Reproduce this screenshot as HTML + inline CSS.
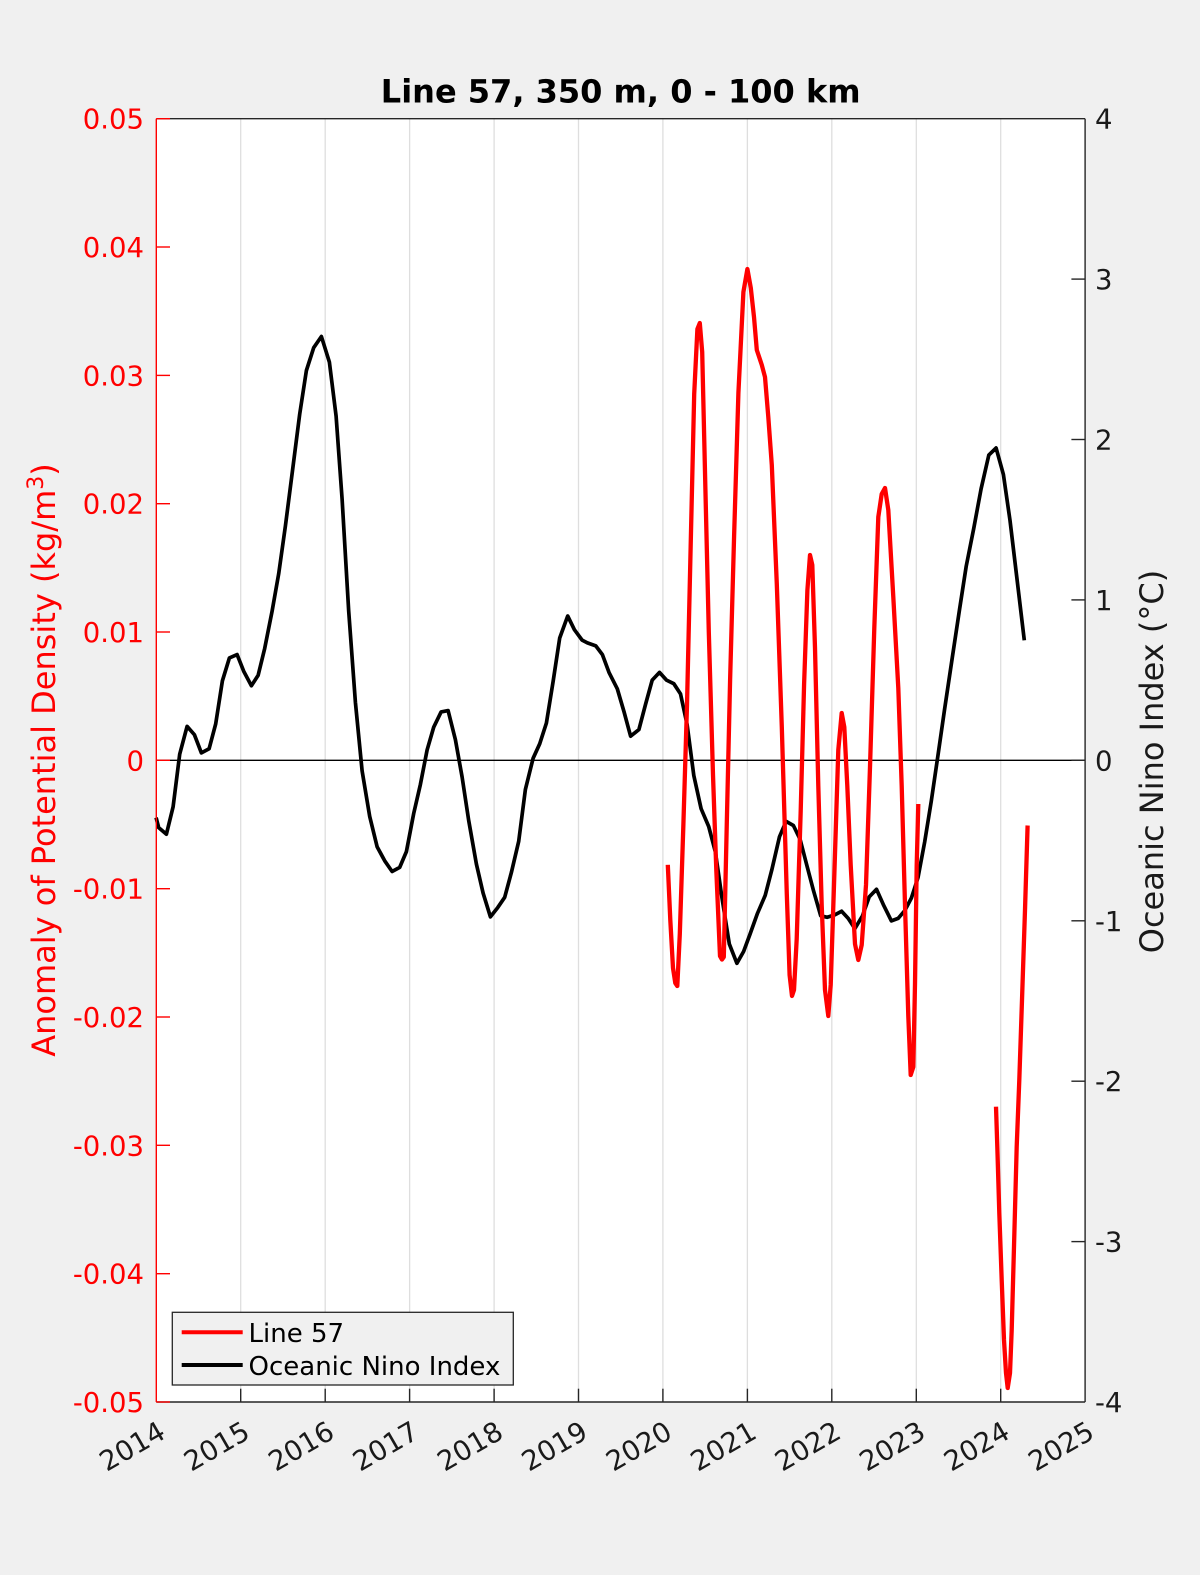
<!DOCTYPE html>
<html>
<head>
<meta charset="utf-8">
<style>
  html, body { margin: 0; padding: 0; background: #f0f0f0; }
  svg { display: block; }
  text { font-family: "DejaVu Sans", "Liberation Sans", sans-serif; }
</style>
</head>
<body>
<svg width="1200" height="1575" viewBox="0 0 1200 1575" xmlns="http://www.w3.org/2000/svg">
  <rect x="0" y="0" width="1200" height="1575" fill="#f0f0f0"/>
  <!-- plot area -->
  <rect x="156.3" y="118.7" width="928.8" height="1283.3" fill="#ffffff"/>

  <!-- vertical gridlines -->
  <g stroke="#dedede" stroke-width="1.3">
    <line x1="240.7" y1="118.7" x2="240.7" y2="1402"/>
    <line x1="325.2" y1="118.7" x2="325.2" y2="1402"/>
    <line x1="409.6" y1="118.7" x2="409.6" y2="1402"/>
    <line x1="494.1" y1="118.7" x2="494.1" y2="1402"/>
    <line x1="578.5" y1="118.7" x2="578.5" y2="1402"/>
    <line x1="662.9" y1="118.7" x2="662.9" y2="1402"/>
    <line x1="747.4" y1="118.7" x2="747.4" y2="1402"/>
    <line x1="831.8" y1="118.7" x2="831.8" y2="1402"/>
    <line x1="916.3" y1="118.7" x2="916.3" y2="1402"/>
    <line x1="1000.7" y1="118.7" x2="1000.7" y2="1402"/>
  </g>

  <!-- zero line -->
  <line x1="156.3" y1="760.3" x2="1085.1" y2="760.3" stroke="#000" stroke-width="1.3"/>

  <!-- ONI black line -->
  <polyline fill="none" stroke="#000" stroke-width="3.7" stroke-linejoin="round" stroke-linecap="butt"
    points="156.1,817.6 158.7,827.6 166.4,834.2 173.1,806.8 179.7,754.2 187.1,726.4 194.4,734.7 201.4,752.9 209.1,748.8 215.7,723.9 222.4,680.8 229.4,657.9 237.1,654.6 243.7,671.2 251.4,685.7 258.1,675.4 264.7,648.4 272.1,611.1 278.7,573.7 285.4,526.0 293.1,465.9 299.7,414.1 306.4,370.5 313.7,347.7 321.4,336.5 329.4,362.2 336.1,416.1 342.1,499.1 348.7,611.1 355.4,702.3 362.1,770.8 369.7,816.4 377.1,846.7 384.7,860.8 392.1,871.5 399.7,867.4 406.4,851.6 413.7,813.5 420.4,784.4 427.1,750.0 433.7,727.2 441.1,711.9 448.1,710.6 455.4,739.7 462.1,777.0 468.7,820.5 476.4,864.1 483.1,893.1 490.4,916.8 497.7,907.6 504.7,897.3 511.4,872.4 518.7,841.3 525.4,789.4 533.1,758.3 539.7,743.8 546.4,723.1 553.1,681.6 559.7,638.0 567.7,616.0 574.4,629.7 582.1,640.1 587.4,642.9 595.8,645.9 602.4,654.6 609.0,672.4 617.3,688.8 624.0,711.7 630.6,736.2 638.9,729.6 645.6,704.1 652.2,680.1 659.5,672.4 666.5,680.1 673.8,683.7 680.5,693.9 687.1,724.5 693.8,775.5 701.1,808.7 708.7,826.5 715.4,852.0 722.0,898.0 729.3,943.9 736.9,963.3 743.6,951.5 750.2,933.7 757.5,913.3 765.2,895.4 771.8,869.9 779.5,836.7 786.1,821.4 793.4,825.5 800.1,839.3 806.7,864.8 813.4,890.3 820.7,915.8 827.3,917.3 835.0,914.8 841.6,911.2 848.2,918.4 854.9,928.6 862.5,915.8 869.2,896.9 876.5,889.3 883.8,905.6 891.4,920.9 898.1,918.4 904.7,910.7 911.4,898.0 918.0,877.6 924.7,841.8 931.3,801.0 938.0,755.1 944.6,709.2 952.2,658.2 959.5,609.7 966.2,566.3 973.8,528.1 981.1,488.8 988.8,455.1 996.1,448.0 1003.4,474.5 1010.0,520.4 1016.7,576.5 1024.3,640.3"/>

  <!-- Line 57 red -->
  <polyline fill="none" stroke="#ff0000" stroke-width="4.3" stroke-linejoin="round" stroke-linecap="butt"
    points="667.8,864.8 670.3,920 673,968 675.3,983 677.3,986 679.8,934 683.4,824 687,705 690.3,562 694.2,394 697.4,329 699.8,323 702.2,352 705.4,489 708.8,632 713,775 716.3,870 720,956 722,959.5 723.8,957 726.8,823 730.1,680 734.1,536 738.4,393 743.4,292 747.4,269 750.8,288 754,317 756.8,350 761.8,365 765,377 768.3,417 771.8,465 776.8,584 781.8,727 786.8,894 789.6,975 792,996 794,990 796.7,939 800.7,811 804.1,684 807.4,590 810,555 812.3,565 815,648 818.3,786 821.7,905 825,990 828.3,1016 830.7,985 834,885 838.3,750 841.7,713 844.3,727 847.3,786 850.7,865 855,944 858.3,960 861.7,945 866,885 870,767 874.3,628 878.3,517 881.7,494 885,488 888.3,510 893.3,597 898.3,688 901.7,786 905,905 908.3,1016 910.7,1075 913.3,1067 915,984 916.7,865 918.3,804"/>
  <polyline fill="none" stroke="#ff0000" stroke-width="4.3" stroke-linejoin="round" stroke-linecap="butt"
    points="996,1106.7 997.3,1146.7 999.3,1213 1001.7,1280 1004,1340 1006,1373 1007.7,1388 1010,1373 1011.7,1330 1014,1246.7 1016.7,1146.7 1019.3,1080 1022,1000 1025,910 1027.6,825.5"/>

  <!-- axes lines -->
  <line x1="156.3" y1="118.7" x2="1085.1" y2="118.7" stroke="#262626" stroke-width="1.4"/>
  <line x1="156.3" y1="1402" x2="1085.1" y2="1402" stroke="#262626" stroke-width="1.4"/>
  <line x1="1085.1" y1="118.7" x2="1085.1" y2="1402" stroke="#262626" stroke-width="1.4"/>
  <line x1="156.3" y1="118.7" x2="156.3" y2="1402" stroke="#ff0000" stroke-width="1.4"/>

  <!-- bottom ticks -->
  <g stroke="#262626" stroke-width="1.4">
    <line x1="240.7" y1="1402" x2="240.7" y2="1388.7"/>
    <line x1="325.2" y1="1402" x2="325.2" y2="1388.7"/>
    <line x1="409.6" y1="1402" x2="409.6" y2="1388.7"/>
    <line x1="494.1" y1="1402" x2="494.1" y2="1388.7"/>
    <line x1="578.5" y1="1402" x2="578.5" y2="1388.7"/>
    <line x1="662.9" y1="1402" x2="662.9" y2="1388.7"/>
    <line x1="747.4" y1="1402" x2="747.4" y2="1388.7"/>
    <line x1="831.8" y1="1402" x2="831.8" y2="1388.7"/>
    <line x1="916.3" y1="1402" x2="916.3" y2="1388.7"/>
    <line x1="1000.7" y1="1402" x2="1000.7" y2="1388.7"/>
  </g>
  <!-- right ticks -->
  <g stroke="#262626" stroke-width="1.4">
    <line x1="1085.1" y1="279.1" x2="1071.4" y2="279.1"/>
    <line x1="1085.1" y1="439.5" x2="1071.4" y2="439.5"/>
    <line x1="1085.1" y1="599.9" x2="1071.4" y2="599.9"/>
    <line x1="1085.1" y1="760.3" x2="1071.4" y2="760.3"/>
    <line x1="1085.1" y1="920.8" x2="1071.4" y2="920.8"/>
    <line x1="1085.1" y1="1081.2" x2="1071.4" y2="1081.2"/>
    <line x1="1085.1" y1="1241.6" x2="1071.4" y2="1241.6"/>
  </g>
  <!-- left ticks (red) -->
  <g stroke="#ff0000" stroke-width="1.4">
    <line x1="156.3" y1="118.7" x2="170" y2="118.7"/>
    <line x1="156.3" y1="247.0" x2="170" y2="247.0"/>
    <line x1="156.3" y1="375.4" x2="170" y2="375.4"/>
    <line x1="156.3" y1="503.7" x2="170" y2="503.7"/>
    <line x1="156.3" y1="632.0" x2="170" y2="632.0"/>
    <line x1="156.3" y1="760.3" x2="170" y2="760.3"/>
    <line x1="156.3" y1="888.7" x2="170" y2="888.7"/>
    <line x1="156.3" y1="1017.0" x2="170" y2="1017.0"/>
    <line x1="156.3" y1="1145.3" x2="170" y2="1145.3"/>
    <line x1="156.3" y1="1273.7" x2="170" y2="1273.7"/>
    <line x1="156.3" y1="1402" x2="170" y2="1402"/>
  </g>

  <!-- left tick labels -->
  <g fill="#ff0000" font-size="27.5" text-anchor="end">
    <text x="144" y="128.7">0.05</text>
    <text x="144" y="257.0">0.04</text>
    <text x="144" y="385.4">0.03</text>
    <text x="144" y="513.7">0.02</text>
    <text x="144" y="642.0">0.01</text>
    <text x="144" y="770.3">0</text>
    <text x="144" y="898.7">-0.01</text>
    <text x="144" y="1027.0">-0.02</text>
    <text x="144" y="1155.3">-0.03</text>
    <text x="144" y="1283.7">-0.04</text>
    <text x="144" y="1412">-0.05</text>
  </g>

  <!-- right tick labels -->
  <g fill="#1a1a1a" font-size="27.5" text-anchor="start">
    <text x="1095" y="128.7">4</text>
    <text x="1095" y="289.1">3</text>
    <text x="1095" y="449.5">2</text>
    <text x="1095" y="609.9">1</text>
    <text x="1095" y="770.3">0</text>
    <text x="1095" y="930.8">-1</text>
    <text x="1095" y="1091.2">-2</text>
    <text x="1095" y="1251.6">-3</text>
    <text x="1095" y="1412">-4</text>
  </g>

  <!-- x tick labels -->
  <g fill="#1a1a1a" font-size="27.5" text-anchor="end">
    <text transform="translate(167.3,1437) rotate(-30)">2014</text>
    <text transform="translate(251.7,1437) rotate(-30)">2015</text>
    <text transform="translate(336.2,1437) rotate(-30)">2016</text>
    <text transform="translate(420.6,1437) rotate(-30)">2017</text>
    <text transform="translate(505.1,1437) rotate(-30)">2018</text>
    <text transform="translate(589.5,1437) rotate(-30)">2019</text>
    <text transform="translate(673.9,1437) rotate(-30)">2020</text>
    <text transform="translate(758.4,1437) rotate(-30)">2021</text>
    <text transform="translate(842.8,1437) rotate(-30)">2022</text>
    <text transform="translate(927.3,1437) rotate(-30)">2023</text>
    <text transform="translate(1011.7,1437) rotate(-30)">2024</text>
    <text transform="translate(1096.1,1437) rotate(-30)">2025</text>
  </g>

  <!-- title -->
  <text x="620.7" y="102.3" font-size="32" font-weight="bold" text-anchor="middle" fill="#000">Line 57, 350 m, 0 - 100 km</text>

  <!-- left y label -->
  <text transform="translate(55,760) rotate(-90)" font-size="32" text-anchor="middle" fill="#ff0000">Anomaly of Potential Density (kg/m<tspan font-size="22" dy="-12">3</tspan><tspan dy="12">)</tspan></text>

  <!-- right y label -->
  <text transform="translate(1163,761.5) rotate(-90)" font-size="32" text-anchor="middle" fill="#1a1a1a">Oceanic Nino Index (°C)</text>

  <!-- legend -->
  <rect x="172.3" y="1312.3" width="341" height="72.7" fill="#f0f0f0" stroke="#262626" stroke-width="1.3"/>
  <line x1="181.7" y1="1332.3" x2="242.7" y2="1332.3" stroke="#ff0000" stroke-width="4"/>
  <line x1="181.7" y1="1365" x2="242.7" y2="1365" stroke="#000" stroke-width="4"/>
  <text x="248.5" y="1342" font-size="26" fill="#000">Line 57</text>
  <text x="248.5" y="1375" font-size="26" fill="#000">Oceanic Nino Index</text>
</svg>
</body>
</html>
